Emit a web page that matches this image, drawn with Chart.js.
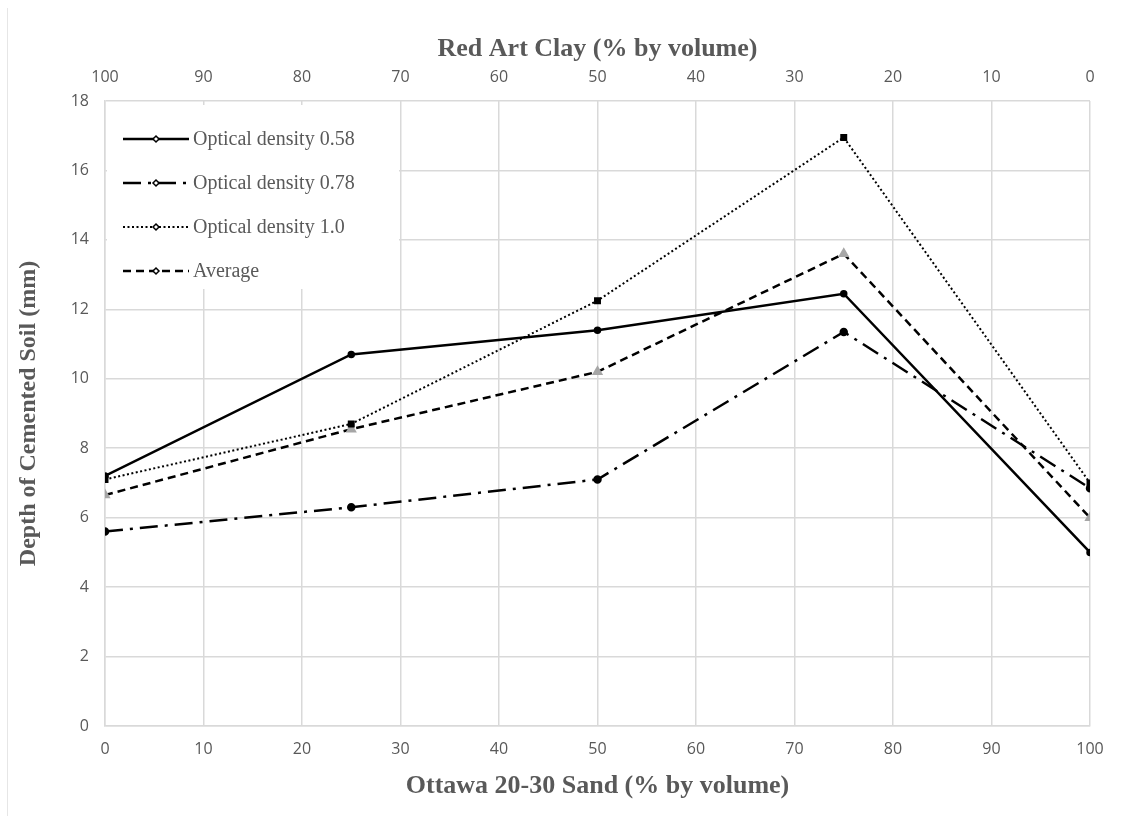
<!DOCTYPE html>
<html>
<head>
<meta charset="utf-8">
<title>Depth of Cemented Soil</title>
<script src="https://cdn.jsdelivr.net/npm/chart.js@4.4.1/dist/chart.umd.min.js"></script>
<style>
    html, body { margin: 0; padding: 0; background: #ffffff; }
    #chart { display: block; }
</style>
</head>
<body>
<canvas id="chart" width="1132" height="824"></canvas>
<script>
// Data
const sandPercent = [0, 25, 50, 75, 100];
const od058 = [7.2, 10.7, 11.4, 12.45, 5.0];
const od078 = [5.6, 6.3, 7.1, 11.35, 6.85];
const od100 = [7.1, 8.7, 12.25, 16.95, 7.0];
const average = [6.65, 8.55, 10.2, 13.6, 6.0];

const seriesNames = ['Optical density 0.58', 'Optical density 0.78', 'Optical density 1.0', 'Average'];

const GRID = '#d9d9d9';
const TEXT = '#595959';
const SERIF = '"Liberation Serif", "DejaVu Serif", serif';
const SANS = '"Open Sans", "Liberation Sans", sans-serif';

function toPoints(values) {
    return sandPercent.map((x, i) => ({ x: x, y: values[i] }));
}

const datasets = [
    {
        label: seriesNames[0],
        data: toPoints(od058),
        borderColor: '#000000',
        borderWidth: 2.5,
        pointStyle: 'circle',
        pointRadius: 2.5,
        pointBackgroundColor: '#000000',
        pointBorderColor: '#000000'
    },
    {
        label: seriesNames[1],
        data: toPoints(od078),
        borderColor: '#000000',
        borderWidth: 2.5,
        borderDash: [18, 7, 3, 7],
        pointStyle: 'circle',
        pointRadius: 3,
        pointBackgroundColor: '#000000',
        pointBorderColor: '#000000'
    },
    {
        label: seriesNames[2],
        data: toPoints(od100),
        borderColor: '#000000',
        borderWidth: 2,
        borderDash: [2, 2.5],
        pointStyle: 'rect',
        pointRadius: 3.5,
        pointBackgroundColor: '#000000',
        pointBorderColor: '#000000'
    },
    {
        label: seriesNames[3],
        data: toPoints(average),
        borderColor: '#000000',
        borderWidth: 2.5,
        borderDash: [8, 5],
        pointStyle: 'triangle',
        pointRadius: 6.5,
        pointBackgroundColor: '#a6a6a6',
        pointBorderColor: '#a6a6a6',
        pointBorderWidth: 0
    }
];

// Legend drawn inside the plot area, Excel style
const insideLegend = {
    id: 'insideLegend',
    afterDatasetsDraw(chart) {
        const ctx = chart.ctx;
        const area = chart.chartArea;
        const x0 = area.left + 2;
        const y0 = area.top + 4;
        ctx.save();
        ctx.fillStyle = '#ffffff';
        ctx.fillRect(x0, y0, 292, 184);
        ctx.font = '20px ' + SERIF;
        ctx.textBaseline = 'middle';
        chart.data.datasets.forEach((ds, i) => {
            const cy = y0 + 34 + i * 44;
            ctx.strokeStyle = '#000000';
            ctx.lineWidth = ds.borderWidth;
            ctx.setLineDash(ds.borderDash || []);
            ctx.beginPath();
            ctx.moveTo(x0 + 16, cy);
            ctx.lineTo(x0 + 82, cy);
            ctx.stroke();
            ctx.setLineDash([]);
            // small hollow diamond marker
            ctx.fillStyle = '#ffffff';
            ctx.lineWidth = 1.5;
            ctx.beginPath();
            ctx.moveTo(x0 + 49, cy - 3);
            ctx.lineTo(x0 + 52, cy);
            ctx.lineTo(x0 + 49, cy + 3);
            ctx.lineTo(x0 + 46, cy);
            ctx.closePath();
            ctx.fill();
            ctx.stroke();
            ctx.fillStyle = TEXT;
            ctx.fillText(ds.label, x0 + 86, cy + 1);
        });
        ctx.restore();
    }
};

const frame = {
    id: 'frame',
    beforeDraw(chart) {
        const ctx = chart.ctx;
        ctx.save();
        ctx.fillStyle = '#ffffff';
        ctx.fillRect(0, 0, chart.width, chart.height);
        ctx.strokeStyle = '#e6e6e6';
        ctx.lineWidth = 1;
        ctx.beginPath();
        ctx.moveTo(7.5, 8);
        ctx.lineTo(7.5, 816);
        ctx.stroke();
        ctx.restore();
    }
};

new Chart(document.getElementById('chart'), {
    type: 'line',
    data: { datasets: datasets },
    plugins: [frame, insideLegend],
    options: {
        responsive: false,
        animation: false,
        layout: { padding: { left: 0, right: 42, top: 0, bottom: 0 } },
        plugins: {
            legend: { display: false },
            tooltip: { enabled: false }
        },
        scales: {
            x: {
                type: 'linear',
                position: 'bottom',
                min: 0,
                max: 100,
                afterFit: (scale) => { scale.height = 98; },
                ticks: { stepSize: 10, color: TEXT, padding: 14, font: { family: SANS, size: 16 } },
                grid: { color: GRID, lineWidth: 1.5, drawTicks: false },
                border: { color: GRID, width: 1.5 },
                title: {
                    display: true,
                    text: 'Ottawa 20-30 Sand (% by volume)',
                    color: TEXT,
                    font: { family: SERIF, size: 26, weight: 'bold' },
                    padding: { top: 0, bottom: 22 }
                }
            },
            x2: {
                type: 'linear',
                position: 'top',
                reverse: true,
                min: 0,
                max: 100,
                afterFit: (scale) => { scale.height = 101; },
                ticks: { stepSize: 10, color: TEXT, padding: 14, font: { family: SANS, size: 16 } },
                grid: { display: false, drawTicks: false },
                border: { display: false },
                title: {
                    display: true,
                    text: 'Red Art Clay (% by volume)',
                    color: TEXT,
                    font: { family: SERIF, size: 26, weight: 'bold' },
                    padding: { top: 34, bottom: 0 }
                }
            },
            y: {
                min: 0,
                max: 18,
                afterFit: (scale) => { scale.width = 105; },
                ticks: { stepSize: 2, color: TEXT, padding: 16, font: { family: SANS, size: 16 } },
                grid: { color: GRID, lineWidth: 1.5, drawTicks: false },
                border: { color: GRID, width: 1.5 },
                title: {
                    display: true,
                    text: 'Depth of Cemented Soil (mm)',
                    color: TEXT,
                    font: { family: SERIF, size: 24, weight: 'bold' },
                    padding: { top: 14, bottom: 0 }
                }
            }
        }
    }
});
</script>
</body>
</html>
